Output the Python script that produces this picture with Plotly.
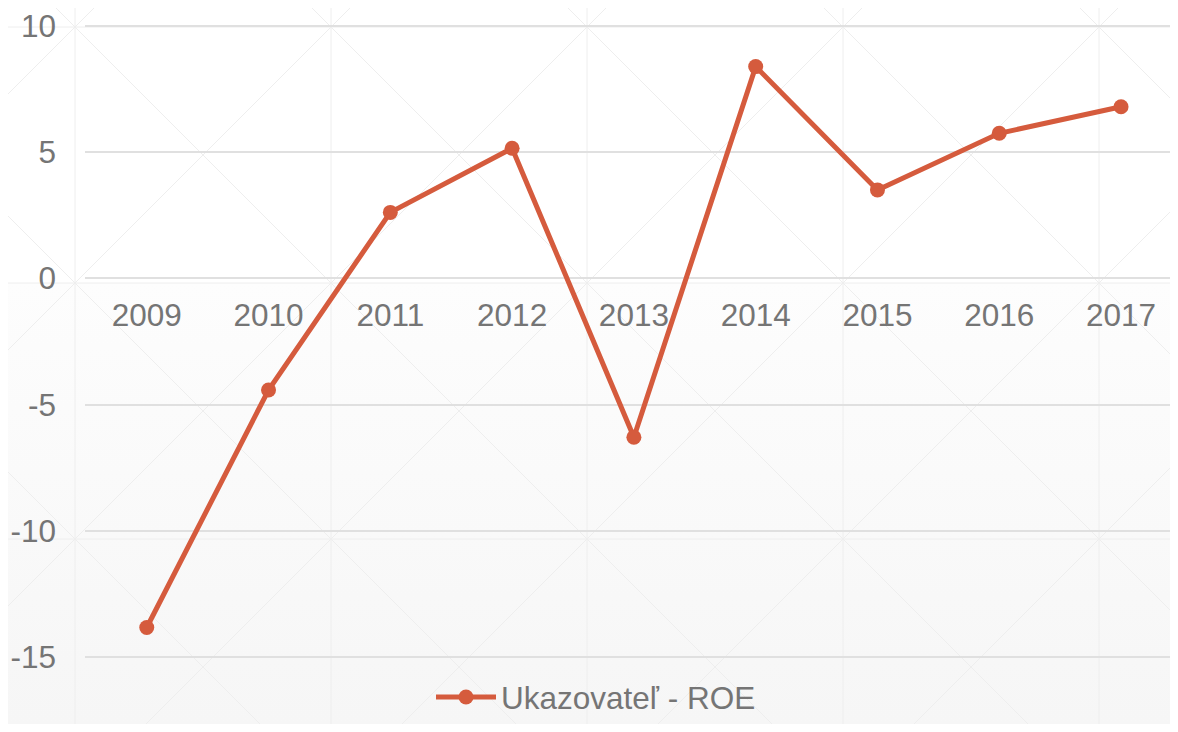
import plotly.graph_objects as go
import base64

# ---- data ----
years = ["2009", "2010", "2011", "2012", "2013", "2014", "2015", "2016", "2017"]
roe = [-13.82, -4.42, 2.61, 5.15, -6.29, 8.38, 3.50, 5.74, 6.79]
series_name = "Ukazovateľ - ROE"
y_tickvals = [10, 5, 0, -5, -10, -15]
y_ticktext = ["10", "5", "0", "-5", "-10", "-15"]

# ---- style ----
# page body has an 8px margin, so the figure is 16px smaller than the window
W, H = 1162, 716
L = 77
Y_RANGE = [-17.64, 10.70]
X_RANGE = [-0.507, 8.402]
LINE_COLOR = "#D55B3D"
TEXT_COLOR = "#757575"
GRID_COLOR = "#E0E0E0"
FONT = "Liberation Sans, Arial, sans-serif"
FS = 31.5

# decorative background pattern (tile 256px with diagonals)
pat = []
for x in range(67 - 256, W + 256, 256):
    pat.append(f'<line x1="{x}" y1="0" x2="{x}" y2="{H}"/>')
for y in range(19 - 256, H + 256, 256):
    pat.append(f'<line x1="0" y1="{y}" x2="{W}" y2="{y}"/>')
for k in range(-6, 10):
    c = 48 + 256 * k  # x - y = c
    pat.append(f'<line x1="{c - 100}" y1="-100" x2="{c + H + 100}" y2="{H + 100}"/>')
    s = 86 + 256 * k  # x + y = s
    pat.append(f'<line x1="{s + 100}" y1="-100" x2="{s - H - 100}" y2="{H + 100}"/>')
svg = (
    f'<svg xmlns="http://www.w3.org/2000/svg" width="{W}" height="{H}" viewBox="0 0 {W} {H}">'
    '<defs><linearGradient id="g" x1="0" y1="0" x2="0" y2="1">'
    '<stop offset="0" stop-color="#fdfdfd"/><stop offset="1" stop-color="#f6f6f6"/>'
    '</linearGradient></defs>'
    f'<rect x="0" y="0" width="{W}" height="{H}" fill="#ffffff"/>'
    f'<rect x="0" y="275" width="{W}" height="{H - 275}" fill="url(#g)"/>'
    '<g stroke="#eeeeee" stroke-width="1">' + "".join(pat) + '</g></svg>'
)
src = "data:image/svg+xml;base64," + base64.b64encode(svg.encode()).decode()

fig = go.Figure()
fig.add_trace(go.Scatter(
    x=years, y=roe, mode="lines+markers", name=series_name,
    line=dict(color=LINE_COLOR, width=5),
    marker=dict(color=LINE_COLOR, size=15),
    showlegend=True,
))

pw = W - L
zero_pos = (0 - Y_RANGE[0]) / (Y_RANGE[1] - Y_RANGE[0])

fig.update_layout(
    width=W, height=H,
    margin=dict(l=L, r=0, t=0, b=0, pad=0),
    paper_bgcolor="#ffffff",
    plot_bgcolor="rgba(0,0,0,0)",
    font=dict(family=FONT, size=FS, color=TEXT_COLOR),
    images=[dict(source=src, xref="paper", yref="paper", x=-L / pw, y=1,
                 sizex=W / pw, sizey=1, sizing="stretch", layer="below",
                 xanchor="left", yanchor="top")],
    xaxis=dict(
        type="category", range=X_RANGE, anchor="free", position=zero_pos,
        showgrid=False, zeroline=False, showline=False, ticks="",
        automargin=False, ticklabelstandoff=15, ticklabeloverflow="allow",
        tickfont=dict(family=FONT, size=FS, color=TEXT_COLOR),
    ),
    yaxis=dict(
        range=Y_RANGE, tickvals=y_tickvals, ticktext=y_ticktext,
        showgrid=True, gridcolor=GRID_COLOR, gridwidth=1.5,
        zeroline=False, showline=False, ticks="",
        automargin=False, ticklabelstandoff=28, ticklabeloverflow="allow",
        tickfont=dict(family=FONT, size=FS, color=TEXT_COLOR),
    ),
    legend=dict(
        orientation="h", x=(588 - L) / pw, xanchor="center", y=0,
        yanchor="bottom", bgcolor="rgba(0,0,0,0)", itemwidth=60,
        font=dict(family=FONT, size=FS, color=TEXT_COLOR),
    ),
)

fig.write_html("out.html", config={"displayModeBar": False})
